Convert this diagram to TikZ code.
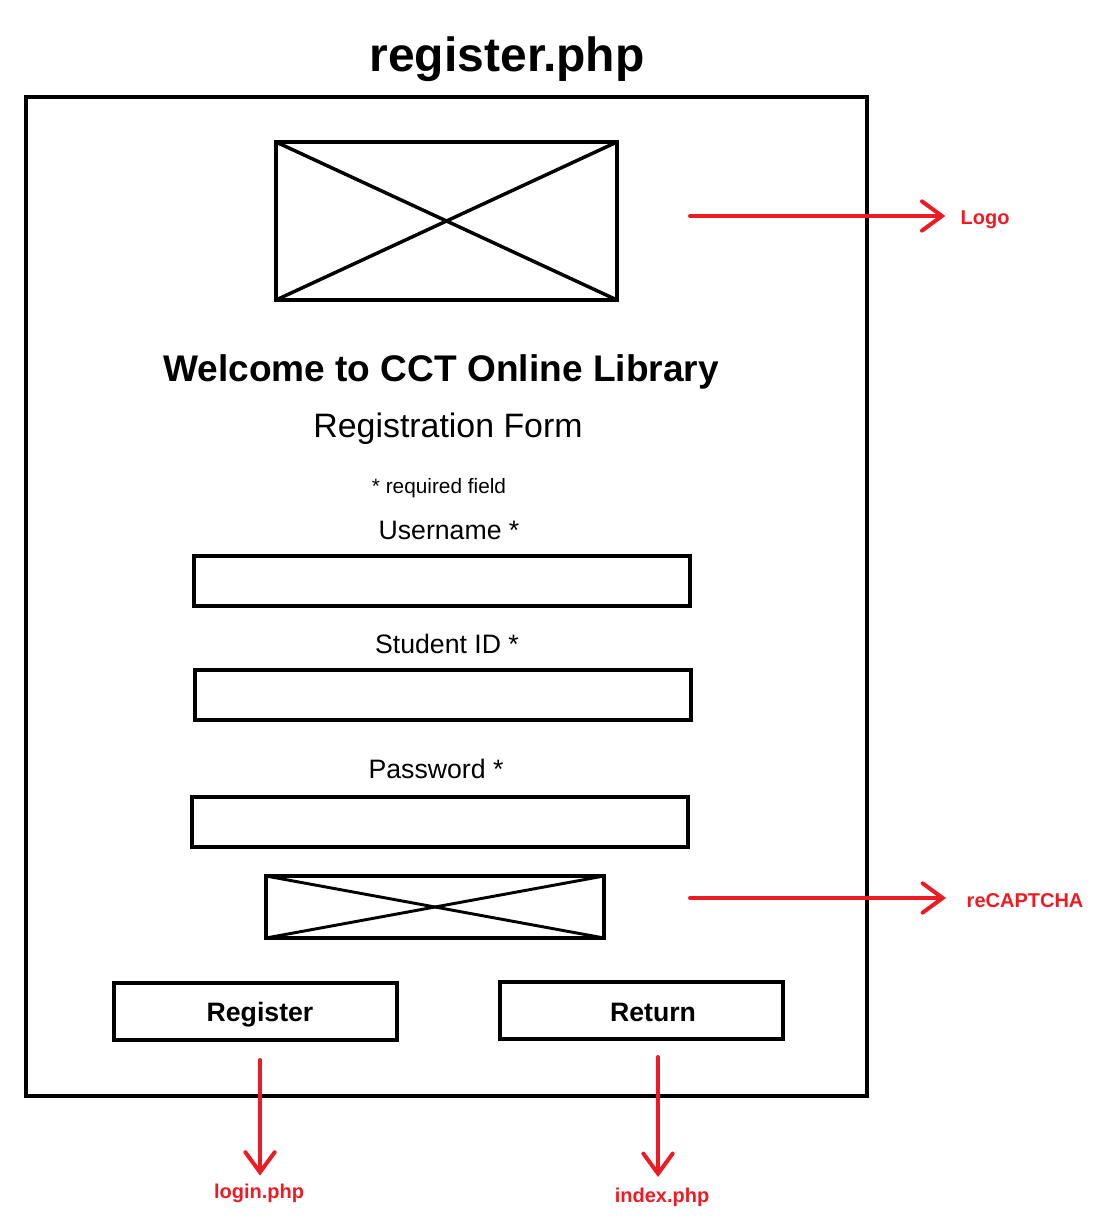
\documentclass[tikz,border=0pt]{standalone}
\usepackage{fontspec}
\setmainfont{Liberation Sans}
\usetikzlibrary{arrows.meta}
\definecolor{paintred}{HTML}{ED1C24}

\begin{document}
\begin{tikzpicture}[x=0.75pt,y=-0.75pt,
        frame/.style={line width=3pt},
        field/.style={draw,line width=3pt,minimum width=372pt,minimum height=37.5pt},
        button/.style={draw,line width=3pt,minimum width=212pt,minimum height=43pt},
        buttontext/.style={font=\bfseries\fontsize{20}{24}\selectfont},
        caption/.style={font=\fontsize{20}{24}\selectfont},
        link/.style={paintred,line width=3pt,line cap=round,-{Straight Barb[length=15pt,width=22pt,line cap=round]}},
        linklabel/.style={paintred,font=\bfseries\fontsize{15}{18}\selectfont}]
        \useasboundingbox (0,0) rectangle (1112,1230);

        \draw (507,59) node(title) {\bfseries\fontsize{36}{43}\selectfont register.php};
        \draw[frame] (26,97) rectangle (867,1096);

        % logo placeholder
        \coordinate (logoa) at (276,142);
        \coordinate (logob) at (617,300);
        \draw[frame] (logoa) rectangle (logob);
        \draw[line width=2.6pt] (logoa) -- (logob);
        \draw[line width=2.6pt] (logoa -| logob) -- (logob -| logoa);

        \draw (441,372) node(welcome) {\bfseries\fontsize{27.8}{33}\selectfont Welcome to CCT Online Library};
        \draw (448,429) node(formtitle) {\fontsize{25.4}{30}\selectfont Registration Form};
        \draw (439,488) node(required) {\fontsize{15.6}{19}\selectfont * required field};

        \draw (449,530) node[caption](username) {Username *};
        \draw (442,581) node[field](userfield) {};
        \draw (447,644) node[caption](studentid) {Student ID *};
        \draw (443,695) node[field](idfield) {};
        \draw (436,769) node[caption](password) {Password *};
        \draw (440,822) node[field](passfield) {};

        % captcha placeholder
        \coordinate (capa) at (266,876);
        \coordinate (capb) at (604,938);
        \draw[frame] (capa) rectangle (capb);
        \draw[line width=2.2pt] (capa) -- (capb);
        \draw[line width=2.2pt] (capa -| capb) -- (capb -| capa);

        \draw (255.5,1011.5) node[button](register) {};
        \draw (260,1015) node[buttontext](registertext) {Register};
        \draw (641.5,1010.5) node[button](return) {};
        \draw (653,1012) node[buttontext](returntext) {Return};

        % links
        \draw (956,220) node[linklabel,anchor=west](logo) {Logo};
        \draw (962,901) node[linklabel,anchor=west](recaptcha) {reCAPTCHA};
        \draw (259,1193) node[linklabel](login) {login.php};
        \draw (662,1197) node[linklabel](index) {index.php};

        \coordinate (logostart) at (690,216);
        \coordinate (capstart) at (690,898);
        \coordinate (loginstart) at (260,1060);
        \coordinate (indexstart) at (658,1057);

        \draw[link,shorten >=8pt] (logostart) -- (logostart -| logo.west);
        \draw[link,shorten >=12pt] (capstart) -- (capstart -| recaptcha.west);
        \draw[link,shorten >=2.5pt] (loginstart) -- (loginstart |- login.north);
        \draw[link,shorten >=4.5pt] (indexstart) -- (indexstart |- index.north);
    \end{tikzpicture}
\end{document}
